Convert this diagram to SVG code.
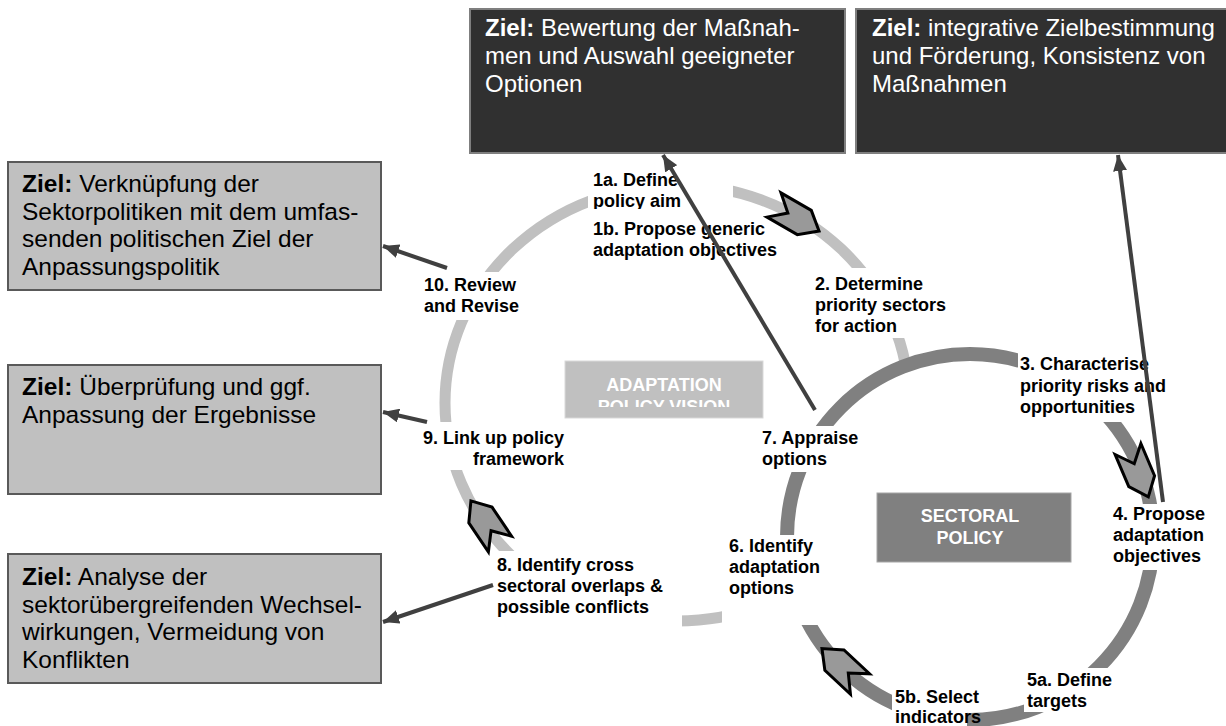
<svg xmlns="http://www.w3.org/2000/svg" width="1226" height="726" viewBox="0 0 1226 726">
<style>
.zd{fill:#303030;stroke:#7f7f7f;stroke-width:2}
.zl{fill:#c0c0c0;stroke:#595959;stroke-width:2}
.zt{font-family:"Liberation Sans",Arial,sans-serif;font-size:24px}
.zt.w{fill:#fff}
.zt.k{fill:#000;font-size:24.5px}
.lb{font-family:"Liberation Sans",Arial,sans-serif;font-size:18px;font-weight:bold;fill:#000}
.bg{fill:#fff}
.chev{fill:#999;stroke:#000;stroke-width:3;stroke-linejoin:miter}
.con{stroke:#404040;stroke-width:4;fill:none;marker-end:url(#ah)}
.ct{font-family:"Liberation Sans",Arial,sans-serif;font-size:18px;font-weight:bold;fill:#fff;text-anchor:middle}
</style>
<defs>
<marker id="ah" markerUnits="userSpaceOnUse" markerWidth="18" markerHeight="14" refX="16" refY="7" orient="auto"><path d="M0,0 L16,7 L0,14 Z" fill="#404040"/></marker>
<clipPath id="c1a"><rect x="585" y="160" width="150" height="49"/></clipPath>
<clipPath id="cav"><rect x="565" y="361" width="198" height="46"/></clipPath>
<path id="chev" d="M0,-14 L35,-14 L52,0 L35,14 L0,14 L16,0 Z"/>
</defs>
<rect width="1226" height="726" fill="#fff"/>

<g id="rings">
<ellipse cx="677" cy="403" rx="232" ry="218" fill="none" stroke="#c0c0c0" stroke-width="11"/>
<circle cx="970" cy="537" r="183" fill="#fff" stroke="#808080" stroke-width="14"/>
</g>

<g id="box-top1"><rect class="zd" x="470" y="9" width="375" height="144"/>
<text class="zt w" x="485" y="36"><tspan font-weight="bold">Ziel:</tspan> Bewertung der Maßnah-</text>
<text class="zt w" x="485" y="64">men und Auswahl geeigneter</text>
<text class="zt w" x="485" y="92">Optionen</text></g>

<g id="box-top2"><rect class="zd" x="856" y="9" width="372" height="144"/>
<text class="zt w" x="872" y="36"><tspan font-weight="bold">Ziel:</tspan> integrative Zielbestimmung</text>
<text class="zt w" x="872" y="64">und Förderung, Konsistenz von</text>
<text class="zt w" x="872" y="92">Maßnahmen</text></g>

<g id="box-left1"><rect class="zl" x="8" y="162" width="373" height="128"/>
<text class="zt k" x="22" y="192"><tspan font-weight="bold">Ziel:</tspan> Verknüpfung der</text>
<text class="zt k" x="22" y="219.5">Sektorpolitiken mit dem umfas-</text>
<text class="zt k" x="22" y="247">senden politischen Ziel der</text>
<text class="zt k" x="22" y="274.5">Anpassungspolitik</text></g>

<g id="box-left2"><rect class="zl" x="8" y="365" width="373" height="129"/>
<text class="zt k" x="22" y="395"><tspan font-weight="bold">Ziel:</tspan> Überprüfung und ggf.</text>
<text class="zt k" x="22" y="423">Anpassung der Ergebnisse</text></g>

<g id="box-left3"><rect class="zl" x="8" y="554" width="373" height="129"/>
<text class="zt k" x="22" y="585"><tspan font-weight="bold">Ziel:</tspan> Analyse der</text>
<text class="zt k" x="22" y="612.5">sektorübergreifenden Wechsel-</text>
<text class="zt k" x="22" y="640">wirkungen, Vermeidung von</text>
<text class="zt k" x="22" y="667.5">Konflikten</text></g>

<g id="step1a"><rect class="bg" x="588" y="163" width="145" height="47"/>
<g clip-path="url(#c1a)"><text class="lb" x="593" y="186">1a. Define</text><text class="lb" x="593" y="207">policy aim</text></g></g>
<g id="step1b"><text class="lb" x="593" y="235">1b. Propose generic</text><text class="lb" x="593" y="256">adaptation objectives</text></g>
<g id="step2"><rect class="bg" x="812" y="268" width="140" height="70"/>
<text class="lb" x="815" y="290">2. Determine</text><text class="lb" x="815" y="311">priority sectors</text><text class="lb" x="815" y="332">for action</text></g>
<g id="step3"><rect class="bg" x="1018" y="350" width="160" height="72"/>
<text class="lb" x="1020" y="370">3. Characterise</text><text class="lb" x="1020" y="392">priority risks and</text><text class="lb" x="1020" y="413">opportunities</text></g>
<g id="step4"><rect class="bg" x="1110" y="504" width="116" height="66"/>
<text class="lb" x="1113" y="520">4. Propose</text><text class="lb" x="1113" y="541">adaptation</text><text class="lb" x="1113" y="562">objectives</text></g>
<g id="step5a"><rect class="bg" x="1024" y="668" width="90" height="44"/>
<text class="lb" x="1027" y="686">5a. Define</text><text class="lb" x="1027" y="707">targets</text></g>
<g id="step5b"><rect class="bg" x="892" y="684" width="75" height="42"/>
<text class="lb" x="895" y="703">5b. Select</text><text class="lb" x="895" y="723">indicators</text></g>
<g id="step6"><rect class="bg" x="722" y="535" width="108" height="90"/>
<text class="lb" x="729" y="552">6. Identify</text><text class="lb" x="729" y="573">adaptation</text><text class="lb" x="729" y="594">options</text></g>
<g id="step7"><rect class="bg" x="758" y="426" width="112" height="46"/>
<text class="lb" x="762" y="444">7. Appraise</text><text class="lb" x="762" y="465">options</text></g>
<g id="step8"><rect class="bg" x="492" y="551" width="190" height="78"/>
<text class="lb" x="497" y="571">8. Identify cross</text><text class="lb" x="497" y="592">sectoral overlaps &amp;</text><text class="lb" x="497" y="613">possible conflicts</text></g>
<g id="step9"><rect class="bg" x="405" y="422" width="162" height="48"/>
<text class="lb" x="564" y="444" text-anchor="end">9. Link up policy</text><text class="lb" x="564" y="465" text-anchor="end">framework</text></g>
<g id="step10"><rect class="bg" x="418" y="272" width="110" height="48"/>
<text class="lb" x="424" y="291">10. Review</text><text class="lb" x="424" y="312">and Revise</text></g>

<g id="vision"><rect x="565" y="361" width="198" height="57" fill="#c0c0c0" stroke="#d9d9d9" stroke-width="1"/>
<g clip-path="url(#cav)"><text class="ct" x="664" y="391">ADAPTATION</text><text class="ct" x="664" y="413">POLICY VISION</text></g></g>
<g id="sectoral"><rect x="877" y="493" width="194" height="69" fill="#808080" stroke="#a6a6a6" stroke-width="1"/>
<text class="ct" x="970" y="522">SECTORAL</text><text class="ct" x="970" y="544">POLICY</text></g>

<g id="chevrons">
<use href="#chev" class="chev" transform="translate(774,205) rotate(30)"/>
<use href="#chev" class="chev" transform="translate(1128,449) rotate(67)"/>
<use href="#chev" class="chev" transform="translate(860,684) rotate(223)"/>
<use href="#chev" class="chev" transform="translate(500,544) rotate(236)"/>
</g>

<g id="connectors">
<path class="con" d="M815,410 L663,155"/>
<path class="con" d="M1163,502 L1118,155"/>
<path class="con" d="M447,268 L383,246"/>
<path class="con" d="M427,422 L383,412"/>
<path class="con" d="M493,585 L383,622"/>
</g>
</svg>
